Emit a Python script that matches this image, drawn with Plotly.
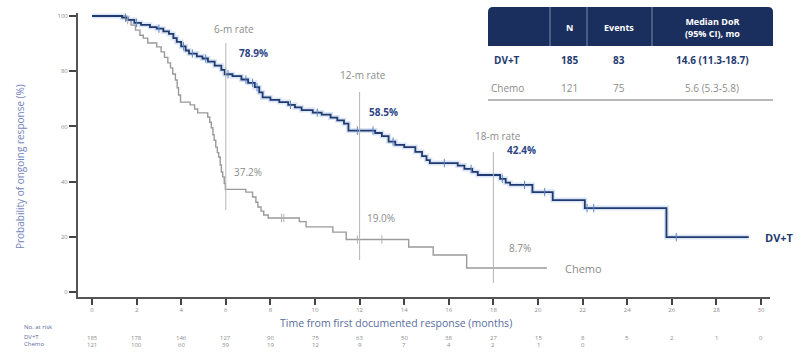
import numpy as np
import plotly.graph_objects as go

# Kaplan-Meier step data (months, % with ongoing response)
dvt_time = [0, 1.35, 1.6, 1.9, 2.2, 2.6, 2.9, 3.2, 3.45, 3.65, 3.8, 4.0, 4.2, 4.35, 4.7, 4.95,
            5.2, 5.5, 5.8, 5.95, 6.3, 6.7, 7.0, 7.3, 7.5, 7.65, 8.0, 8.4, 8.8, 9.1, 9.4, 9.9,
            10.3, 10.7, 11.0, 11.3, 11.5, 12.7, 13.0, 13.3, 13.6, 14.0, 14.5, 14.8, 15.0, 15.15,
            16.4, 16.7, 17.05, 17.3, 18.3, 18.55, 18.75, 19.75, 20.66, 22.1, 25.76]
dvt_surv = [100, 99.4, 98.6, 97.5, 96.8, 96.0, 95.4, 94.4, 93.5, 92.0, 90.6, 89.0, 87.5, 86.4, 85.4, 84.6,
            83.5, 82.0, 80.5, 78.9, 78.2, 77.0, 75.8, 74.2, 72.3, 70.5, 69.6, 68.8, 67.8, 66.9, 65.9, 65.0,
            64.3, 63.2, 62.2, 61.0, 58.5, 57.6, 56.5, 54.5, 53.3, 52.5, 50.8, 49.2, 47.8, 46.7,
            45.8, 44.6, 43.5, 42.4, 41.0, 39.6, 38.8, 36.2, 33.3, 30.4, 19.9]
dvt_last = 29.45

chemo_time = [0, 1.55, 1.75, 1.95, 2.15, 2.3, 2.5, 2.9, 3.1, 3.25, 3.4, 3.52, 3.62, 3.74, 3.82, 3.88,
              3.97, 4.4, 4.6, 4.74, 5.19, 5.28, 5.35, 5.42, 5.48, 5.55, 5.62, 5.68, 5.75, 5.8, 5.86,
              5.93, 5.98, 6.9, 7.2, 7.35, 7.44, 7.58, 7.7, 7.9, 9.3, 9.6, 10.8, 11.4, 14.2, 15.3, 16.8]
chemo_surv = [100, 98.5, 96.7, 94.9, 93.0, 92.0, 90.2, 88.8, 87.0, 85.0, 83.0, 81.2, 79.0, 76.8, 74.0, 71.4,
              68.8, 67.8, 66.3, 64.9, 63.4, 61.5, 59.5, 57.0, 55.0, 52.5, 50.5, 48.9, 46.0, 43.5, 41.7,
              39.3, 37.2, 36.2, 34.4, 32.5, 30.8, 29.3, 27.9, 26.8, 25.5, 23.6, 21.7, 19.0, 16.3, 13.4, 8.7]
chemo_last = 20.4

# censored observations
dvt_censor = [1.5, 2.0, 3.0, 4.1, 4.5, 5.1, 6.1, 6.9, 7.2, 7.4, 8.9, 10.1, 11.9, 12.6, 13.5,
              15.8, 17.0, 18.4, 19.4, 20.3, 22.2, 22.5, 26.2]
chemo_censor = [1.6, 8.5, 8.6, 11.9, 13.0]

# landmark rates
rate_months = [6, 12, 18]
rate_titles = ["6-m rate", "12-m rate", "18-m rate"]
dvt_rates = ["78.9%", "58.5%", "42.4%"]
chemo_rates = ["37.2%", "19.0%", "8.7%"]

# numbers at risk
risk_months = list(range(0, 31, 2))
risk_dvt = [185, 178, 146, 127, 90, 75, 63, 50, 38, 27, 15, 8, 5, 2, 1, 0]
risk_chemo = [121, 100, 60, 39, 19, 12, 9, 7, 4, 2, 1, 0]

# summary table
table_header = ["", "N", "Events", "Median DoR<br>(95% CI), mo"]
table_rows = [["DV+T", "185", "83", "14.6 (11.3-18.7)"],
              ["Chemo", "121", "75", "5.6 (5.3-5.8)"]]

NAVY = "#1f3a70"
HEAD = "#1b2f5e"
GREY = "#9a9a9a"
TXT_GREY = "#8c8c8c"
AXIS_BLUE = "#5a6d9e"
FONT = "Open Sans"

W, H = 805, 353
L, R, T, B = 78, 770, 13, 297


def px(x):
    return (x - L) / (R - L)


def py(y):
    return (B - y) / (B - T)


def surv_at(times, survs, t):
    i = np.searchsorted(np.asarray(times), t, side="right") - 1
    return survs[i]


fig = go.Figure()

# DV+T halo + line
fig.add_trace(go.Scatter(x=dvt_time + [dvt_last], y=dvt_surv + [dvt_surv[-1]], mode="lines",
                         line=dict(shape="hv", color="rgba(110,150,215,0.25)", width=5),
                         hoverinfo="skip", showlegend=False))
fig.add_trace(go.Scatter(x=chemo_time + [chemo_last], y=chemo_surv + [chemo_surv[-1]], mode="lines",
                         line=dict(shape="hv", color=GREY, width=1.4), showlegend=False))
fig.add_trace(go.Scatter(x=dvt_time + [dvt_last], y=dvt_surv + [dvt_surv[-1]], mode="lines",
                         line=dict(shape="hv", color=NAVY, width=1.8), showlegend=False))

fig.add_trace(go.Scatter(x=dvt_censor, y=[surv_at(dvt_time, dvt_surv, t) for t in dvt_censor],
                         mode="markers", showlegend=False,
                         marker=dict(symbol="line-ns", size=6, line=dict(color="#5f86c4", width=1))))
fig.add_trace(go.Scatter(x=chemo_censor, y=[surv_at(chemo_time, chemo_surv, t) for t in chemo_censor],
                         mode="markers", showlegend=False,
                         marker=dict(symbol="line-ns", size=6, line=dict(color="#b0b0b0", width=1))))

shapes = []
annotations = []

# landmark vertical lines (pixel extents)
line_spans = [(43, 210), (92, 260), (152, 283)]
for m, (y0p, y1p) in zip(rate_months, line_spans):
    shapes.append(dict(type="line", xref="x", yref="paper", x0=m, x1=m, y0=py(y1p), y1=py(y0p),
                       line=dict(color="#b5b5b5", width=1)))

title_pos = [(212, 29), (338, 75), (473, 136)]
dvt_pos = [(237, 53), (367, 112), (505, 150)]
chemo_pos = [(232, 172), (365, 218), (507, 248)]
for t, (x, y) in zip(rate_titles, title_pos):
    annotations.append(dict(text=t, x=px(x), y=py(y), xref="paper", yref="paper", xanchor="left",
                            yanchor="middle", showarrow=False, font=dict(size=10, color=TXT_GREY, family=FONT)))
for t, (x, y) in zip(dvt_rates, dvt_pos):
    annotations.append(dict(text="<b>" + t + "</b>", x=px(x), y=py(y), xref="paper", yref="paper",
                            xanchor="left", yanchor="middle", showarrow=False,
                            font=dict(size=10, color="#2c4584", family=FONT)))
for t, (x, y) in zip(chemo_rates, chemo_pos):
    annotations.append(dict(text=t, x=px(x), y=py(y), xref="paper", yref="paper", xanchor="left",
                            yanchor="middle", showarrow=False, font=dict(size=10, color=TXT_GREY, family=FONT)))

# curve end labels
annotations.append(dict(text="<b>DV+T</b>", x=px(763), y=py(237), xref="paper", yref="paper",
                        xanchor="left", yanchor="middle", showarrow=False,
                        font=dict(size=11, color=NAVY, family=FONT)))
annotations.append(dict(text="Chemo", x=px(563), y=py(268), xref="paper", yref="paper",
                        xanchor="left", yanchor="middle", showarrow=False,
                        font=dict(size=11, color=TXT_GREY, family=FONT)))

# summary table
tx0, tx1, ty0, ty1 = 488, 773, 7, 46
rad = 5
path = (f"M {px(tx0)},{py(ty1)} L {px(tx0)},{py(ty0 + rad)} "
        f"Q {px(tx0)},{py(ty0)} {px(tx0 + rad)},{py(ty0)} "
        f"L {px(tx1 - rad)},{py(ty0)} Q {px(tx1)},{py(ty0)} {px(tx1)},{py(ty0 + rad)} "
        f"L {px(tx1)},{py(ty1)} Z")
shapes.append(dict(type="path", xref="paper", yref="paper", path=path,
                   fillcolor=HEAD, line=dict(width=0)))
for sx in [550, 587, 652]:
    shapes.append(dict(type="line", xref="paper", yref="paper", x0=px(sx), x1=px(sx),
                       y0=py(ty1), y1=py(ty0), line=dict(color="rgba(255,255,255,0.45)", width=1)))
shapes.append(dict(type="line", xref="paper", yref="paper", x0=px(tx0), x1=px(tx1),
                   y0=py(100), y1=py(100), line=dict(color="#b8b8b8", width=2)))

col_x = [507, 569, 619, 712]
for cx, h in zip(col_x, table_header):
    if h:
        annotations.append(dict(text="<b>" + h + "</b>", x=px(cx), y=py(27), xref="paper", yref="paper",
                                xanchor="center", yanchor="middle", showarrow=False,
                                font=dict(size=9, color="white", family=FONT)))
row_y = [60, 88]
for ry, row, style in zip(row_y, table_rows, ["navy", "grey"]):
    for cx, cell in zip(col_x, row):
        txt = "<b>" + cell + "</b>" if style == "navy" else cell
        col = NAVY if style == "navy" else TXT_GREY
        annotations.append(dict(text=txt, x=px(cx), y=py(ry), xref="paper", yref="paper",
                                xanchor="center", yanchor="middle", showarrow=False,
                                font=dict(size=10, color=col, family=FONT)))

# numbers at risk
annotations.append(dict(text="No. at risk", x=px(22), y=py(327), xref="paper", yref="paper",
                        xanchor="left", yanchor="middle", showarrow=False,
                        font=dict(size=6, color=AXIS_BLUE, family=FONT)))
annotations.append(dict(text="DV+T", x=px(22), y=py(337), xref="paper", yref="paper",
                        xanchor="left", yanchor="middle", showarrow=False,
                        font=dict(size=6, color=AXIS_BLUE, family=FONT)))
annotations.append(dict(text="Chemo", x=px(22), y=py(344), xref="paper", yref="paper",
                        xanchor="left", yanchor="middle", showarrow=False,
                        font=dict(size=6, color=AXIS_BLUE, family=FONT)))
for m, n in zip(risk_months, risk_dvt):
    annotations.append(dict(text=str(n), x=m, y=py(338), xref="x", yref="paper", xanchor="center",
                            yanchor="middle", showarrow=False, font=dict(size=6, color=TXT_GREY, family=FONT)))
for m, n in zip(risk_months, risk_chemo):
    annotations.append(dict(text=str(n), x=m, y=py(345), xref="x", yref="paper", xanchor="center",
                            yanchor="middle", showarrow=False, font=dict(size=6, color=TXT_GREY, family=FONT)))

# axis titles
annotations.append(dict(text="Time from first documented response (months)", x=px(396), y=py(323),
                        xref="paper", yref="paper", xanchor="center", yanchor="middle", showarrow=False,
                        font=dict(size=10.5, color=AXIS_BLUE, family=FONT)))
annotations.append(dict(text="Probability of ongoing response (%)", x=px(20), y=py(167),
                        xref="paper", yref="paper", xanchor="center", yanchor="middle", showarrow=False,
                        textangle=-90, font=dict(size=10, color="#7385bd", family=FONT)))

x_lo = (L - 92) / 22.3
x_hi = (R - 92) / 22.3
y_lo = (292 - B) / 2.76
y_hi = (292 - T) / 2.76

fig.update_layout(
    width=W, height=H, margin=dict(l=L, r=W - R, t=T, b=H - B),
    paper_bgcolor="white", plot_bgcolor="white",
    shapes=shapes, annotations=annotations, showlegend=False,
    xaxis=dict(range=[x_lo, x_hi], tickvals=risk_months, ticks="outside", ticklen=6, tickwidth=1.5,
               tickcolor="#444", showline=True, linecolor="#555", linewidth=2, showgrid=False,
               zeroline=False, tickfont=dict(size=6, color=TXT_GREY, family=FONT)),
    yaxis=dict(range=[y_lo, y_hi], tickvals=[0, 20, 40, 60, 80, 100], ticks="outside", ticklen=7,
               tickwidth=1.5, tickcolor="#444", showline=True, linecolor="#555", linewidth=2,
               showgrid=False, zeroline=False, tickfont=dict(size=6, color=TXT_GREY, family=FONT)),
)

fig.write_html("out.html")
